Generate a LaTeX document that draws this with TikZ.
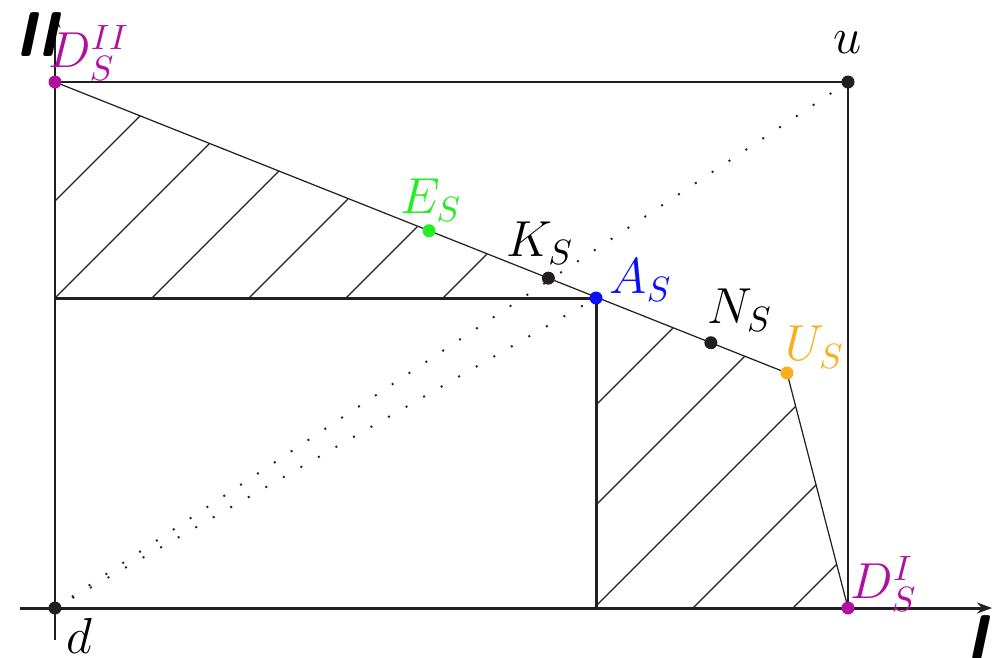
\documentclass[tikz,border=0pt]{standalone}
\usetikzlibrary{arrows.meta, positioning, calc}
\definecolor{dcolor}{HTML}{B0109E}
\definecolor{ecolor}{HTML}{22EE22}
\definecolor{acolor}{HTML}{0A10F5}
\definecolor{ucolor}{HTML}{FBAE1B}
\definecolor{ptcolor}{HTML}{231F20}

\begin{document}
\begin{tikzpicture}[
    pt/.style={circle, fill=#1, inner sep=0pt, minimum size=1.3mm},
    lbl/.style={font=\fontsize{14.4}{17}\selectfont, inner sep=0pt},
    axlbl/.style={font=\fontsize{18}{21}\selectfont\sffamily\bfseries\itshape, inner sep=0pt},
    axis/.style={line width=0.85pt, ptcolor, -{Stealth[length=1.5mm, width=1.1mm]}},
    thickedge/.style={line width=0.85pt, ptcolor},
    border/.style={line width=0.6pt, ptcolor},
    thin/.style={line width=0.35pt, ptcolor},
    hatch/.style={line width=0.35pt, ptcolor},
    dots/.style={line width=0.55pt, ptcolor, dash pattern=on 0.55pt off 5.2pt}
]
    \useasboundingbox (-0.55,-0.49) rectangle (9.45,6.08);

    % points of the construction
    \coordinate (d)   at (0,0);
    \coordinate (u)   at (7.93,5.26);
    \coordinate (DII) at (0,5.26);
    \coordinate (DI)  at (7.93,0);
    \coordinate (A)   at (5.41,3.10);
    \coordinate (U)   at (7.32,2.35);
    \coordinate (E)   at ($(DII)!0.511!(U)$);
    \coordinate (K)   at ($(DII)!0.674!(U)$);
    \coordinate (N)   at ($(DII)!0.896!(U)$);
    \coordinate (Ax0) at (0,3.10);
    \coordinate (Ay0) at (5.41,0);

    % hatching, upper left
    \begin{scope}
        \clip (DII) -- (A) -- (Ax0) -- cycle;
        \foreach \k in {-0.97,0,0.97,1.94,2.91,3.88}
            \draw[hatch] (\k-1,2.10) -- ++(6,6);
    \end{scope}
    % hatching, lower right
    \begin{scope}
        \clip (A) -- (U) -- (DI) -- (Ay0) -- cycle;
        \foreach \k in {3.38,4.38,5.39,6.38,7.38}
            \draw[hatch] (\k,0) -- ++(5,5);
    \end{scope}

    % dotted diagonals
    \draw[dots] (d) -- (u);
    \draw[dots] (d) -- (A);

    % frame and axes
    \draw[border] (DII) -- (u) -- (DI);
    \draw[axis] (-0.35,0) -- (9.37,0);
    \draw[axis] (0,-0.32) -- (0,5.95);
    \draw[thickedge] (Ax0) -- (A) -- (Ay0);
    \draw[thin] (DII) -- (U) -- (DI);

    % dots
    \node[pt=dcolor]  (pDII) at (DII) {};
    \node[pt=dcolor]  (pDI)  at (DI) {};
    \node[pt=ptcolor] (pu)   at (u) {};
    \node[pt=ptcolor] (pd)   at (d) {};
    \node[pt=ecolor]  (pE)   at (E) {};
    \node[pt=ptcolor] (pK)   at (K) {};
    \node[pt=acolor]  (pA)   at (A) {};
    \node[pt=ptcolor] (pN)   at (N) {};
    \node[pt=ucolor]  (pU)   at (U) {};

    % labels
    \node[lbl, dcolor]  at (0.34,5.55) {$D_S^{II}$};
    \node[lbl, dcolor]  at (8.29,0.24) {$D_S^{I}$};
    \node[lbl]          at (7.93,5.65) {$u$};
    \node[lbl]          at (0.24,-0.28) {$d$};
    \node[lbl, ecolor]  at (3.76,4.08) {$E_S$};
    \node[lbl]          at (4.85,3.65) {$K_S$};
    \node[lbl, acolor]  at (5.86,3.28) {$A_S$};
    \node[lbl]          at (6.85,2.98) {$N_S$};
    \node[lbl, ucolor]  at (7.60,2.61) {$U_S$};
    \node[axlbl] at (9.22,-0.30) {I};
    \node[axlbl] at (-0.18,5.73) {II};
\end{tikzpicture}
\end{document}
